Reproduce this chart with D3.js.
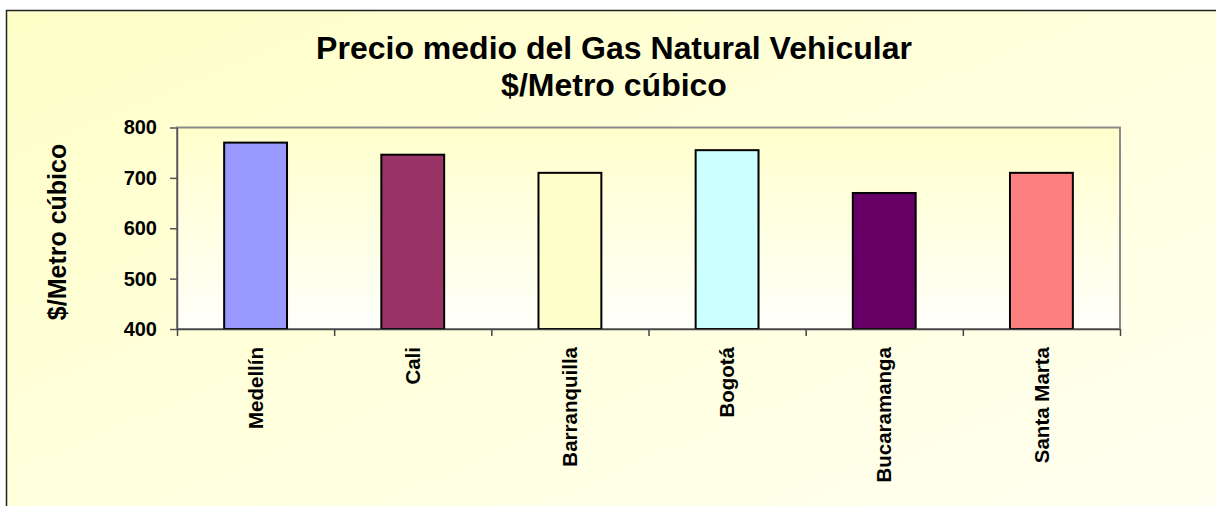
<!DOCTYPE html>
<html>
<head>
<meta charset="utf-8">
<script src="https://cdn.jsdelivr.net/npm/d3@7"></script>
<style>
  body { margin: 0; background: #fff; }
  svg { display: block; font-family: "Liberation Sans", Arial, sans-serif; }
</style>
</head>
<body>
<div id="chart-area"></div>
<script>
const cities = ["Medellín", "Cali", "Barranquilla", "Bogotá", "Bucaramanga", "Santa Marta"],
  prices = [770, 746, 710, 755, 670, 710],
  barColors = ["#9999FF", "#993366", "#FFFFCC", "#CCFFFF", "#660066", "#FF8080"],
  yTicks = [400, 500, 600, 700, 800],
  titleLines = ["Precio medio del Gas Natural Vehicular", "$/Metro cúbico"],
  yTitle = "$/Metro cúbico";

const W = 1216, H = 506;
const plot = { left: 177, right: 1120, top: 127.5, bottom: 329 };

const svg = d3.select("#chart-area").append("svg")
  .attr("width", W)
  .attr("height", H);

const defs = svg.append("defs");
const bgGrad = defs.append("linearGradient").attr("id", "bgGrad")
  .attr("x1", "0").attr("y1", "0").attr("x2", "1").attr("y2", "1");
bgGrad.append("stop").attr("offset", "0%").attr("stop-color", "#FFFFC8");
bgGrad.append("stop").attr("offset", "100%").attr("stop-color", "#FFFFF2");

const plotGrad = defs.append("linearGradient").attr("id", "plotGrad")
  .attr("x1", "0").attr("y1", "0").attr("x2", "0").attr("y2", "1");
plotGrad.append("stop").attr("offset", "0%").attr("stop-color", "#FFFFCC");
plotGrad.append("stop").attr("offset", "100%").attr("stop-color", "#FFFFFA");

// chart area
svg.append("rect")
  .attr("x", 6.5).attr("y", 10.5)
  .attr("width", 1240).attr("height", 520)
  .attr("fill", "url(#bgGrad)")
  .attr("stroke", "#222").attr("stroke-width", 1.5);

// title
svg.append("text")
  .attr("text-anchor", "middle")
  .style("font-size", "32px").style("font-weight", "bold")
  .selectAll("tspan").data(titleLines).enter().append("tspan")
  .attr("x", 614)
  .attr("y", (d, i) => i === 0 ? 59 : 96)
  .text(d => d);

// scales
const x = d3.scaleBand()
  .domain(cities)
  .range([plot.left, plot.right])
  .paddingInner(0.6)
  .paddingOuter(0.3);

const xCat = d3.scaleLinear()
  .domain([0, cities.length])
  .range([plot.left, plot.right]);

const y = d3.scaleLinear()
  .domain([400, 800])
  .range([plot.bottom, plot.top]);

// plot area
svg.append("rect")
  .attr("x", plot.left).attr("y", plot.top)
  .attr("width", plot.right - plot.left).attr("height", plot.bottom - plot.top)
  .attr("fill", "url(#plotGrad)")
  .attr("stroke", "#8a8a8a").attr("stroke-width", 2);

// bars
svg.append("g").selectAll("rect")
  .data(prices)
  .enter()
  .append("rect")
  .attr("x", (d, i) => x(cities[i]))
  .attr("y", d => y(d))
  .attr("width", x.bandwidth())
  .attr("height", d => y(400) - y(d))
  .attr("fill", (d, i) => barColors[i])
  .attr("stroke", "#000")
  .attr("stroke-width", 2);

//y axis
const yAxis = svg.append("g")
  .attr("transform", "translate(" + plot.left + ",0)")
  .call(d3.axisLeft(y).tickValues(yTicks).tickSize(7).tickSizeOuter(0).tickPadding(13));
yAxis.selectAll("text")
  .style("font-size", "20px").style("font-weight", "bold")
  .style("font-family", "'Liberation Sans', Arial, sans-serif")
  .attr("fill", "#000");
yAxis.selectAll("line, path").attr("stroke", "#555").attr("stroke-width", 1.5);

//x axis (category separators)
const xAxis = svg.append("g")
  .attr("transform", "translate(0," + plot.bottom + ")")
  .call(d3.axisBottom(xCat).tickValues(d3.range(cities.length + 1)).tickSize(7).tickSizeOuter(0).tickFormat(""));
xAxis.selectAll("line, path").attr("stroke", "#444").attr("stroke-width", 1.5);

// category labels
svg.append("g").selectAll("text")
  .data(cities)
  .enter()
  .append("text")
  .attr("transform", d => "translate(" + (x(d) + x.bandwidth() / 2) + "," + 347 + ") rotate(-90)")
  .attr("text-anchor", "end")
  .attr("dy", "0.35em")
  .style("font-size", "20.5px").style("font-weight", "bold")
  .text(d => d);

// y title
svg.append("text")
  .attr("transform", "translate(66," + 232 + ") rotate(-90)")
  .attr("text-anchor", "middle")
  .style("font-size", "25px").style("font-weight", "bold")
  .text(yTitle);
</script>
</body>
</html>
